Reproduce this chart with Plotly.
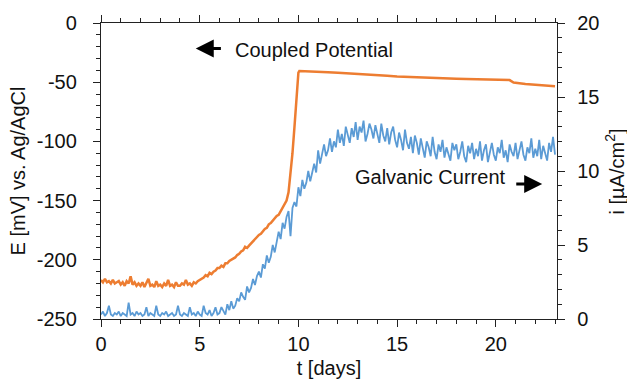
import plotly.graph_objects as go

# Coupled potential E [mV] vs Ag/AgCl
t_E = [round(k * 0.1, 1) for k in range(95)] + [
    9.5, 9.6, 9.7, 9.8, 9.9, 10.0, 10.05, 10.5, 11.0, 11.5, 12.0,
    12.5, 13.0, 13.5, 14.0, 14.5, 15.0, 15.5, 16.0, 16.5, 17.0, 17.5, 18.0, 18.5,
    19.0, 19.5, 20.0, 20.5, 20.7, 20.9, 21.2, 21.5, 22.0, 22.5, 23.0]
E_mV = [
    -217, -219, -216, -219, -218, -220, -217, -220, -219, -218,
    -221, -219, -222, -218, -220, -214, -221, -219, -222, -220,
    -222, -219, -223, -220, -216, -222, -221, -223, -218, -222,
    -221, -223, -220, -222, -217, -222, -221, -223, -219, -222,
    -222, -220, -221, -217, -221, -220, -222, -219, -220, -218,
    -217, -216, -215, -213, -214, -211, -212, -210, -209, -207,
    -207, -205, -206, -203, -203, -201, -200, -199, -198, -196,
    -195, -193, -192, -189, -190, -188, -186, -184, -183, -181,
    -179, -178, -176, -174, -173, -170, -169, -167, -165, -163,
    -162, -159, -156, -154, -150,
    -143, -128, -110, -88, -64, -42, -40.5, -41, -41.3, -41.6, -42,
    -42.4, -43, -43.5, -44, -44.6, -45.2, -45.6, -46, -46.3, -46.5, -46.8, -47, -47.2,
    -47.4, -47.5, -47.6, -47.8, -48.2, -50.3, -51, -51.5, -52.2, -53, -53.5]

# Galvanic current i [uA/cm2], sampled every 0.1 day from 0 to 23
t_i = [round(k * 0.1, 1) for k in range(231)]
i_uA = [
    0.3, 0.5, 0.2, 0.4, 0.9, 0.3, 0.2, 0.4, 0.3, 0.5,
    0.2, 0.4, 0.3, 0.2, 1.1, 0.3, 0.4, 0.2, 0.5, 0.3,
    0.4, 0.2, 0.3, 0.8, 0.2, 0.4, 0.3, 0.2, 0.9, 0.3,
    0.2, 0.4, 0.3, 0.5, 0.2, 0.3, 0.4, 0.2, 0.3, 0.9,
    0.3, 0.2, 0.4, 0.3, 0.2, 0.8, 0.3, 0.4, 0.2, 0.5,
    0.3, 0.2, 0.9, 0.4, 0.3, 0.6, 0.2, 0.4, 0.8, 0.3,
    0.4, 0.8, 0.5, 0.3, 1.0, 0.6, 1.2, 0.7, 0.9, 1.4,
    1.2, 1.8, 1.5, 1.3, 2.2, 1.8, 2.1, 2.7, 2.3, 2.9,
    3.2, 2.8, 3.7, 3.4, 4.3, 3.8, 4.2, 5.0, 4.5, 5.3,
    5.9, 5.4, 6.5, 6.1, 6.9, 7.3, 5.6, 7.5, 7.9, 7.6,
    8.9, 8.3, 9.4, 8.8, 9.2, 10.0, 9.3, 9.9, 10.5, 9.9,
    11.4, 10.5, 11.2, 11.8, 11.0, 11.4, 12.2, 11.3, 12.0, 11.6,
    12.8, 11.9, 12.5, 11.7, 13.0, 12.4, 11.9, 12.9, 12.3, 13.3,
    12.1, 13.0, 12.6, 13.4, 12.0, 12.5, 13.2, 12.8, 12.2, 13.1,
    12.5, 11.9, 13.2, 12.4, 12.0, 12.9, 11.8, 12.6, 13.0, 12.1,
    11.6, 12.6, 12.1, 11.4, 12.8, 11.9, 11.5, 12.3, 11.2, 12.4,
    11.9, 11.1, 12.2, 11.5, 10.9, 12.0, 11.6, 11.0, 12.3, 11.3,
    10.8, 11.8, 11.3, 12.1, 10.9, 11.6, 11.1, 10.7, 11.9, 11.4,
    11.8, 10.8, 11.3, 12.0, 11.0, 10.6, 11.7, 11.2, 11.9, 10.8,
    11.5, 11.0, 12.0, 10.7, 11.4, 11.8, 10.6, 11.2, 11.9, 11.1,
    10.7, 11.6, 11.2, 12.1, 10.9, 11.4, 10.6, 11.8, 11.3, 11.0,
    11.9, 10.8, 11.4, 12.0, 11.1, 10.7, 11.6, 11.2, 12.2, 10.9,
    11.5, 11.0, 12.1, 10.8, 11.7, 11.2, 10.7, 11.9, 11.3, 12.3,
    11.1,
]

x_ticks = [0, 5, 10, 15, 20]
E_ticks = [0, -50, -100, -150, -200, -250]
E_ticktext = ["0", "-50", "-100", "-150", "-200", "-250"]
i_ticks = [0, 5, 10, 15, 20]

FONT = "Liberation Sans, Arial, sans-serif"
FS = 20
ORANGE = "#ED7D31"
BLUE = "#5B9BD5"

fig = go.Figure()
fig.add_trace(go.Scatter(x=t_i, y=i_uA, mode="lines", yaxis="y2",
                         line=dict(color=BLUE, width=1.8), showlegend=False))
fig.add_trace(go.Scatter(x=t_E, y=E_mV, mode="lines", yaxis="y",
                         line=dict(color=ORANGE, width=2.5), showlegend=False))

axis_common = dict(showline=True, linecolor="#222", linewidth=1.3, showgrid=False,
                   zeroline=False, ticks="outside", ticklen=7, tickwidth=1.3,
                   tickcolor="#222", automargin=False,
                   tickfont=dict(family=FONT, size=FS, color="#111"))

fig.update_layout(
    width=627, height=379,
    margin=dict(l=101, r=70, t=23, b=60),
    paper_bgcolor="white", plot_bgcolor="white",
    font=dict(family=FONT, size=FS, color="#111"),
    xaxis=dict(range=[0, 23.1], tickvals=x_ticks, mirror="ticks",
               minor=dict(dtick=1, ticklen=4, tickcolor="#222", ticks="outside"),
               title=dict(text="t [days]", font=dict(family=FONT, size=FS), standoff=6),
               **axis_common),
    yaxis=dict(range=[-250, 0], tickvals=E_ticks, ticktext=E_ticktext,
               ticklabelstandoff=12,
               minor=dict(dtick=10, ticklen=4, tickcolor="#222", ticks="outside"),
               title=dict(text="E [mV] vs. Ag/AgCl", font=dict(family=FONT, size=FS), standoff=5),
               **axis_common),
    yaxis2=dict(range=[0, 20], tickvals=i_ticks, overlaying="y", side="right",
                ticklabelstandoff=8,
                minor=dict(dtick=1, ticklen=4, tickcolor="#222", ticks="outside"),
                **axis_common),
)

# right axis title
fig.add_annotation(x=1.126, y=0.5, xref="paper", yref="paper",
                   text="i [µA/cm<sup>2</sup>]", textangle=-90, showarrow=False,
                   xanchor="center", yanchor="middle",
                   font=dict(family=FONT, size=FS, color="#111"))

fig.add_annotation(x=4.8, y=-21.5, ax=6.15, ay=-21.5, xref="x", yref="y",
                   axref="x", ayref="y", text="", showarrow=True,
                   arrowhead=2, arrowsize=1.2, arrowwidth=3, arrowcolor="black")
fig.add_annotation(x=6.68, y=-23, xref="x", yref="y", text="Coupled Potential",
                   showarrow=False, xanchor="left", yanchor="middle",
                   font=dict(family=FONT, size=FS, color="#111"))
fig.add_annotation(x=12.76, y=-130, xref="x", yref="y", text="Galvanic Current",
                   showarrow=False, xanchor="left", yanchor="middle",
                   font=dict(family=FONT, size=FS, color="#111"))
fig.add_annotation(x=22.35, y=-136, ax=20.96, ay=-136, xref="x", yref="y",
                   axref="x", ayref="y", text="", showarrow=True,
                   arrowhead=2, arrowsize=1.2, arrowwidth=3, arrowcolor="black")

fig.write_html("out.html", config={"displayModeBar": False},
               post_script="document.body.style.margin='0';document.body.style.overflow='hidden';")
